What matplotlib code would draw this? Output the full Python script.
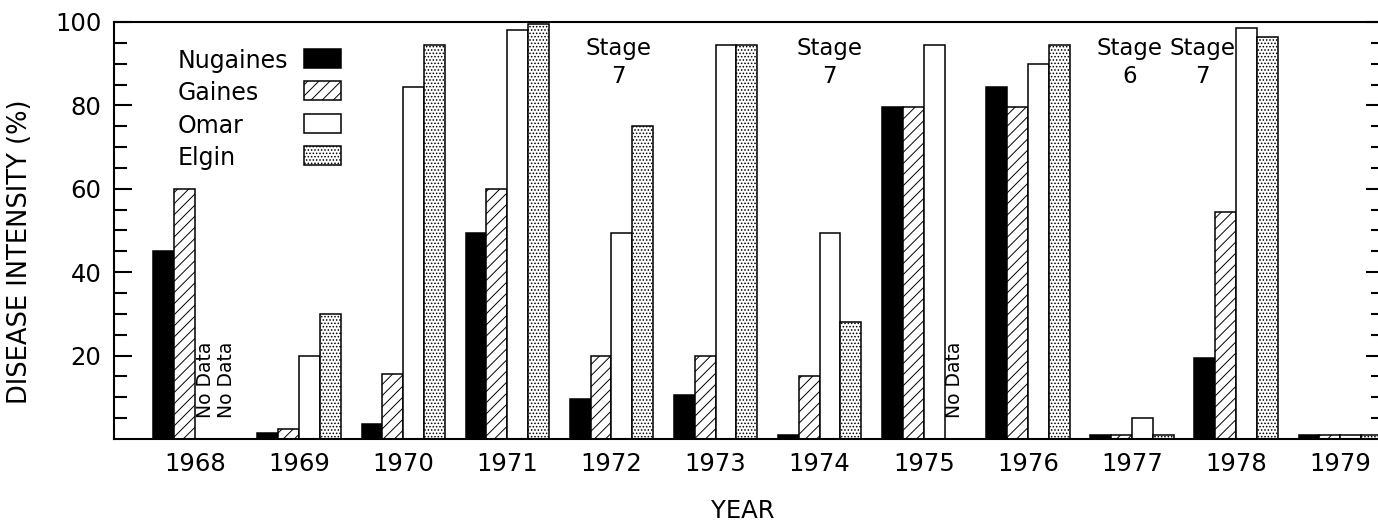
import numpy as np
import matplotlib
matplotlib.use("Agg")
import matplotlib.pyplot as plt
from matplotlib.patches import Rectangle

plt.rcParams['font.family'] = 'DejaVu Sans'
plt.rcParams['hatch.linewidth'] = 0.7
plt.rcParams['hatch.color'] = 'black'

# ---------------------------------------------------
# disease intensity (%) per variety and year, nan = no data
years = ['1968', '1969', '1970', '1971', '1972', '1973',
         '1974', '1975', '1976', '1977', '1978', '1979']
varieties = ['Nugaines', 'Gaines', 'Omar', 'Elgin']
nan = np.nan
nugaines = [45, 1.5, 3.5, 49.5, 9.5, 10.5, 1, 79.5, 84.5, 1, 19.5, 1]
gaines = [60, 2.5, 15.5, 60, 20, 20, 15, 79.5, 79.5, 1, 54.5, 1]
omar = [nan, 20, 84.5, 98, 49.5, 94.5, 49.5, 94.5, 90, 5, 98.5, 1]
elgin = [nan, 30, 94.5, 99.5, 75, 94.5, 28, nan, 94.5, 1, 96.5, 1]

# (year index, variety index) where no reading was taken
no_data = [(0, 2), (0, 3), (7, 3)]
# growth stage notes: text, x position in year units
stage_notes = [('Stage\n7', 4.07), ('Stage\n7', 6.09),
               ('Stage\n6', 8.98), ('Stage\n7', 9.68)]

# fill / hatch per variety
styles = [dict(facecolor='black', hatch=None),
          dict(facecolor='white', hatch='///'),
          dict(facecolor='white', hatch=None),
          dict(facecolor='white', hatch='.....')]

# ---------------------------------------------------
fig = plt.figure(figsize=(13.78, 5.22), dpi=100)
ax = fig.add_axes([0.0827, 0.159, 0.9216, 0.7989])

x = np.arange(len(years))
w = 0.2
series = [nugaines, gaines, omar, elgin]
for j, (vals, st) in enumerate(zip(series, styles)):
    ax.bar(x + (j - 1.5) * w, vals, w, facecolor=st['facecolor'],
           edgecolor='black', hatch=st['hatch'], linewidth=1.1, zorder=2)

for yi, vi in no_data:
    ax.text(yi + (vi - 1.5) * w, 5, 'No Data', rotation=90,
            ha='center', va='bottom', fontsize=13.5)

for txt, xpos in stage_notes:
    ax.text(xpos, 96.5, txt, ha='center', va='top', fontsize=16.5,
            linespacing=1.3, multialignment='center')

# legend: labels on the left, swatches lined up on the right
for k, (name, st) in enumerate(zip(varieties, styles)):
    y0 = 0.890 - k * 0.078
    ax.text(0.0498, y0, name, transform=ax.transAxes, fontsize=17,
            ha='left', va='baseline')
    ax.add_patch(Rectangle((0.1493, y0), 0.0292, 0.0456,
                           transform=ax.transAxes, facecolor=st['facecolor'],
                           edgecolor='black', hatch=st['hatch'],
                           linewidth=1.1, clip_on=False))

ax.set_xlim(-0.778, 11.42)
ax.set_ylim(0, 100)
ax.set_xticks(x)
ax.set_xticklabels(years)
ax.set_yticks([20, 40, 60, 80, 100])
ax.set_yticks([v for v in range(5, 100, 5) if v % 20], minor=True)

for s in ax.spines.values():
    s.set_linewidth(1.5)
ax.tick_params(axis='x', length=0, pad=9, labelsize=17.5)
ax.tick_params(axis='y', which='major', direction='in', length=13, width=1.5,
               left=True, right=True, labelsize=17.5, pad=9)
ax.tick_params(axis='y', which='minor', direction='in', length=9.5, width=1.5,
               left=True, right=True)

ax.set_ylabel('DISEASE INTENSITY (%)', fontsize=18.5)
ax.yaxis.set_label_coords(-0.064, 0.45)
ax.set_xlabel('YEAR', fontsize=17.5)
ax.xaxis.set_label_coords(0.495, -0.145)

fig.savefig('out.png', dpi=100)
